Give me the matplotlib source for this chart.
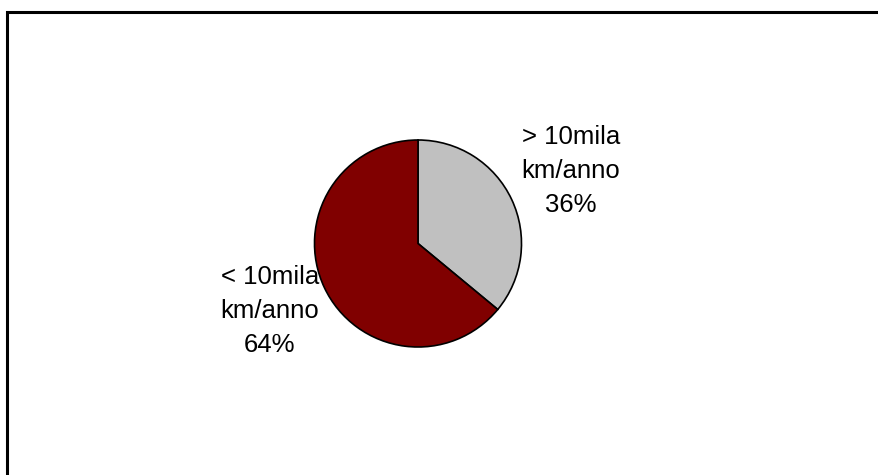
import matplotlib.pyplot as plt
from matplotlib.patches import Rectangle

# data
labels = ["> 10mila\nkm/anno\n36%", "< 10mila\nkm/anno\n64%"]
shares = [36, 64]
colors = ["#C0C0C0", "#800000"]

W, H = 879, 475
fig = plt.figure(figsize=(W / 100, H / 100), dpi=100)
ax = fig.add_axes([0, 0, 1, 1])

ax.pie(shares, colors=colors, startangle=90, counterclock=False,
       center=(418, H - 243.5), radius=103.5,
       wedgeprops=dict(edgecolor="black", linewidth=1.2), frame=True)
ax.set_xlim(0, W)
ax.set_ylim(0, H)
ax.set_aspect("equal")
ax.axis("off")

font = dict(family="Liberation Sans", fontsize=18.5, ha="center", va="center",
            linespacing=1.55)
ax.text(571, H - 171, labels[0], **font)
ax.text(270, H - 311, labels[1], **font)

# chart border (only top/left visible in the original)
ax.add_patch(Rectangle((7, -50), W, H - 12 + 50, fill=False,
                       edgecolor="black", linewidth=2.2, clip_on=False))

fig.savefig("out.png", dpi=100)
